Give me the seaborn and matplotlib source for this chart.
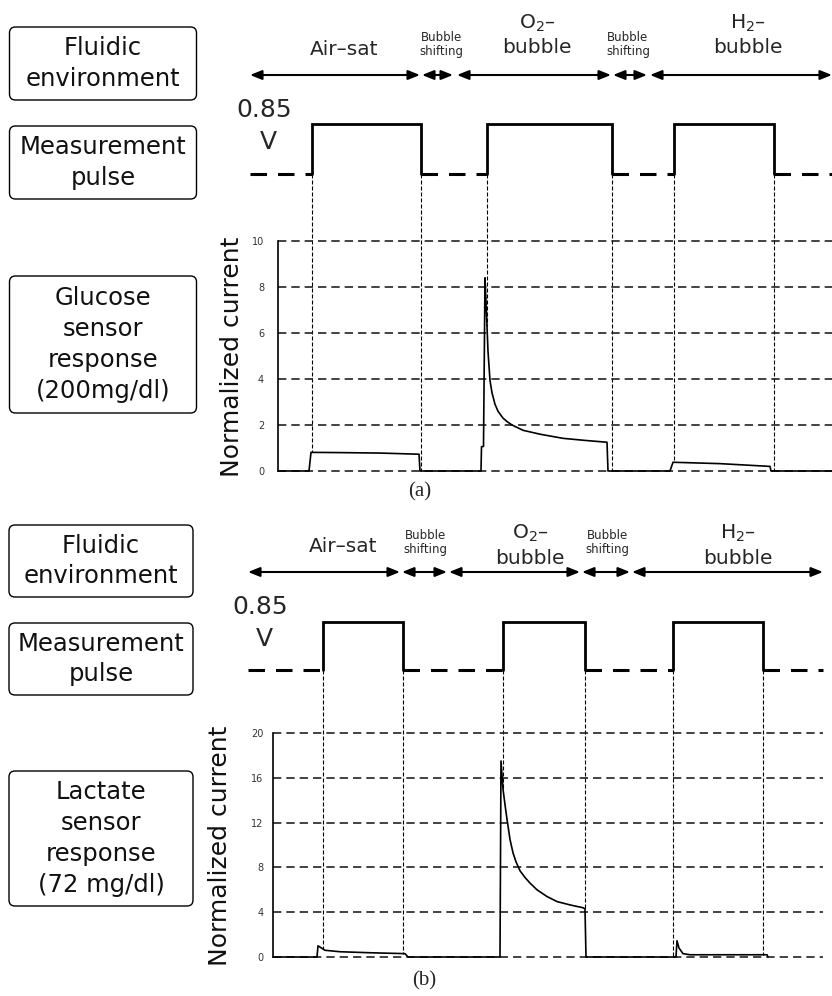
import numpy as np
import pandas as pd
import matplotlib.pyplot as plt
import seaborn as sns
from matplotlib.patches import FancyBboxPatch

sns.set_style("white")
plt.rcParams['font.family'] = ['DejaVu Sans']

W, H = 832, 996

# ---- data (time axis in arbitrary units) ----
# (a) glucose sensor, 200 mg/dl
time_a = [278, 309, 311, 340, 380, 419, 420, 481, 481.5, 483.5, 485, 486, 487, 488, 490,
          492, 495, 498, 503, 507, 512, 523, 540, 563, 585, 607, 608, 670, 673, 720, 770,
          771, 832]
current_a = [0, 0, 0.81, 0.80, 0.78, 0.73, 0, 0, 1.05, 1.07, 8.4, 7.4, 6.3, 5.2, 3.94,
             3.4, 2.9, 2.6, 2.3, 2.15, 2.0, 1.77, 1.6, 1.42, 1.33, 1.25, 0, 0, 0.38, 0.32, 0.2,
             0, 0]
# (b) lactate sensor, 72 mg/dl
time_b = [273, 317, 318, 325, 340, 370, 405, 408, 500, 501, 503, 505, 507, 510, 513, 516,
          520, 525, 530, 537, 547, 557, 570, 583, 585, 586, 676, 677, 679, 683, 690, 767, 768]
current_b = [0, 0, 1.0, 0.6, 0.47, 0.38, 0.3, 0, 0, 17.5, 15.0, 13.6, 12.3, 10.5, 9.3, 8.5,
             7.7, 7.1, 6.6, 6.0, 5.4, 4.95, 4.65, 4.4, 4.3, 0, 0, 1.45, 0.8, 0.3, 0.2, 0.2, 0]

yticks_a = [0, 2, 4, 6, 8, 10]
yticks_b = [0, 4, 8, 12, 16, 20]

# measurement pulse on/off times
pulse_on_a = [312, 487, 674]
pulse_off_a = [421, 612, 774]
pulse_on_b = [323, 503, 673]
pulse_off_b = [403, 585, 763]

# fluidic environment phases
phase_names = ["Air–sat", "Bubble\nshifting", "O$_2$–\nbubble", "Bubble\nshifting", "H$_2$–\nbubble"]
phase_small = [False, True, False, True, False]
phases_a = [(250, 420), (422, 453), (457, 611), (613, 647), (650, 832)]
phases_b = [(248, 400), (402, 447), (449, 580), (582, 630), (632, 823)]

box_text_a = [["Fluidic", "environment"], ["Measurement", "pulse"],
              ["Glucose", "sensor", "response", "(200mg/dl)"]]
box_text_b = [["Fluidic", "environment"], ["Measurement", "pulse"],
              ["Lactate", "sensor", "response", "(72 mg/dl)"]]

fig = plt.figure(figsize=(W / 100, H / 100), dpi=100)
bg = fig.add_axes([0, 0, 1, 1])
bg.set_xlim(0, W)
bg.set_ylim(H, 0)
bg.axis('off')


def add_box(x0, x1, y0, y1, lines):
    bg.add_patch(FancyBboxPatch((x0, y0), x1 - x0, y1 - y0,
                                boxstyle='round,pad=0,rounding_size=6',
                                fc='none', ec='black', lw=1.0))
    yc = (y0 + y1) / 2
    step = 30.8
    n = len(lines)
    for k, s in enumerate(lines):
        bg.text((x0 + x1) / 2, yc + (k - (n - 1) / 2) * step, s, ha='center', va='center',
                fontsize=17.5, color='#111111')


def draw_panel(t, cur, yticks, on, off, phases, boxes, lay):
    x0, x1, ytop, ybot = lay['axes']
    ax = fig.add_axes([x0 / W, 1 - ybot / H, (x1 - x0) / W, (ybot - ytop) / H])
    ax.patch.set_alpha(0)
    df = pd.DataFrame({'t': t, 'current': cur})
    sns.lineplot(data=df, x='t', y='current', ax=ax, color='black', lw=1.2,
                 sort=False, estimator=None)
    for ln in ax.lines:
        ln.set_clip_on(False)
    ax.set_xlim(x0, x1)
    ax.set_ylim(yticks[0], yticks[-1])
    ax.set_xlabel('')
    ax.set_ylabel('')
    ax.set_xticks([])
    ax.set_yticks(yticks)
    ax.tick_params(axis='y', length=0, pad=lay['pad'], labelsize=7, labelcolor='#333333')
    for s in ['top', 'right', 'bottom']:
        ax.spines[s].set_visible(False)
    ax.spines['left'].set_color('black')
    ax.spines['left'].set_linewidth(1.2)
    for yv in yticks:
        ax.axhline(yv, color='#222222', lw=1.2, ls=(0, (5, 3)), clip_on=False, zorder=0)

    ylabel_x, ylabel_y = lay['ylabel']
    bg.text(ylabel_x, ylabel_y, "Normalized current", rotation=90, ha='center',
            va='center', fontsize=18, color='#111111')

    # pulse trace
    hi, lo = lay['pulse']
    start, end = phases[0][0], phases[-1][1]
    lows = [start] + list(off)
    lows_end = list(on) + [end]
    for a, b in zip(lows, lows_end):
        bg.plot([a, b], [lo, lo], color='black', lw=2.2, ls=(0, (5.4, 3.6)))
    for a, b in zip(on, off):
        bg.plot([a, a, b, b], [lo, hi, hi, lo], color='black', lw=2.0, solid_joinstyle='miter')
    bg.text(lay['volt'][0], lay['volt'][1], "0.85", ha='center', va='center', fontsize=18)
    bg.text(lay['volt'][0] + 4, lay['volt'][1] + 32, "V", ha='center', va='center', fontsize=18)

    # thin dashed guides from pulse edges down to the current trace
    scale = (ybot - ytop) / (yticks[-1] - yticks[0])
    for x in list(on) + list(off):
        v = np.interp(x, t, cur)
        bg.plot([x, x], [lo, ybot - v * scale], color='black', lw=0.8, ls=(0, (3.6, 1.8)))

    # phase arrows
    ya = lay['arrow']
    for (a, b), name, small, xc in zip(phases, phase_names, phase_small, lay['label_x']):
        bg.annotate('', xy=(b, ya), xytext=(a, ya),
                    arrowprops=dict(arrowstyle='<|-|>,head_length=0.7,head_width=0.28',
                                    color='black', lw=1.5, mutation_scale=10,
                                    shrinkA=0, shrinkB=0))
        if small:
            bg.text(xc, ya + lay['small_dy'], name, ha='center', va='center',
                    fontsize=8.5, linespacing=1.1)
        elif '\n' in name:
            top, bottom = name.split('\n')
            bg.text(xc, ya + lay['big_dy'][0], top, ha='center', va='center', fontsize=14.5)
            bg.text(xc, ya + lay['big_dy'][1], bottom, ha='center', va='center', fontsize=14.5)
        else:
            bg.text(xc, ya - 26, name, ha='center', va='center', fontsize=14.5)

    for (y0, y1), lines in zip(lay['boxes'], boxes):
        add_box(lay['box_x'][0], lay['box_x'][1], y0, y1, lines)

    bg.text(lay['tag'][0], lay['tag'][1], lay['tag'][2], ha='center', va='center',
            fontsize=15, family='Liberation Serif')
    return ax


layout_a = dict(axes=(278, 832, 241, 471), pad=10, ylabel=(232, 357), pulse=(124, 174),
                volt=(264, 110), arrow=75, small_dy=-31, big_dy=(-52, -28),
                label_x=[344, 441, 537, 628, 748],
                boxes=[(27, 100), (126, 199), (276, 413)], box_x=(9.5, 196.5),
                tag=(420, 492, "(a)"))
layout_b = dict(axes=(273, 823, 733, 957), pad=7, ylabel=(220, 846), pulse=(622, 670),
                volt=(260, 607), arrow=572, small_dy=-30, big_dy=(-39, -14),
                label_x=[343, 425, 530, 607, 738],
                boxes=[(525, 597), (623, 695), (771, 906)], box_x=(9, 193),
                tag=(424, 981, "(b)"))

draw_panel(time_a, current_a, yticks_a, pulse_on_a, pulse_off_a, phases_a, box_text_a, layout_a)
draw_panel(time_b, current_b, yticks_b, pulse_on_b, pulse_off_b, phases_b, box_text_b, layout_b)

plt.savefig("out.png", dpi=100)
plt.close(fig)
